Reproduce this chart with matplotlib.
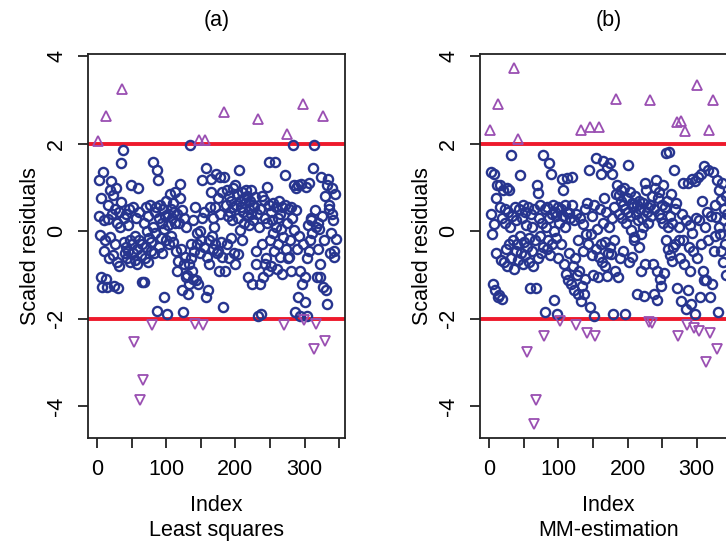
import numpy as np
import matplotlib
matplotlib.use("Agg")
import matplotlib.pyplot as plt

resid_ls = [
    2.06, 1.17, 0.34, -0.09, -1.05, 0.75, -1.27, 1.36, 0.25, -0.44,
    -0.20, 2.64, -1.10, -1.27, 0.60, 0.28, -0.60, 0.95, -0.12, 1.14,
    0.40, -0.55, 0.83, -1.26, 0.50, -0.30, 1.00, -0.70, 0.20, -1.30,
    -0.79, 0.45, 0.10, 0.67, 1.55, 3.24, 1.86, -0.25, 0.30, -0.50,
    0.40, -0.35, -0.60, 0.15, -0.45, 0.50, -0.20, -0.70, 1.06, -0.30,
    0.55, -0.50, -2.52, -0.10, -0.65, 0.30, -0.40, -0.75, 1.00, -0.20,
    0.45, -3.86, -0.55, -1.16, -0.30, -3.39, 0.20, -1.16, -0.60, 0.55,
    -0.35, 0.00, -0.70, 0.35, -0.15, 0.60, -0.45, -0.25, -2.13, 1.59,
    0.10, -0.50, 0.45, -0.05, 0.55, 1.40, -1.81, 1.17, -0.35, 0.30,
    0.60, -0.15, 0.20, -0.50, 0.50, 0.05, -1.50, 0.35, -0.20, 0.70,
    -1.88, 0.40, 0.15, -0.30, 0.85, 0.50, -0.10, 0.30, 0.65, -0.25,
    0.45, 0.90, 0.20, -0.44, 0.40, -0.90, -0.67, 0.18, 1.09, 0.75,
    -0.40, -1.35, 0.48, -1.85, -0.74, 0.30, -0.59, -1.05, 0.10, -1.00,
    -1.43, -1.20, -0.75, 1.97, -0.30, -0.60, -0.90, 0.25, -1.10, -0.45,
    0.56, -2.11, -1.12, -0.05, -0.30, -1.20, 2.09, -0.50, 0.00, -0.20,
    1.17, 0.30, -2.13, 0.45, -0.35, 2.09, -1.50, 1.44, -0.59, -1.35,
    -0.74, -0.21, 0.55, 0.90, 1.20, -0.10, -0.40, 0.30, 0.10, 0.56,
    -0.30, 1.30, -0.50, 0.75, -0.44, -0.90, 1.25, 0.40, -0.25, -0.59,
    0.90, -1.74, 2.72, 1.25, -0.90, 0.60, -0.30, 0.95, 0.35, -0.60,
    0.80, 0.45, -0.15, 0.70, 0.25, 1.00, 0.55, -0.50, -0.74, 1.06,
    0.60, 0.85, 0.30, -0.51, 1.40, 0.70, 0.02, 0.56, -0.21, 0.90,
    0.45, 0.75, 0.20, 0.65, 0.95, 0.35, 0.80, -1.05, 0.50, 0.15,
    0.70, 0.40, 0.94, -1.20, 0.60, 0.25, 0.55, 0.79, -0.74, -0.44,
    0.40, 2.56, -1.93, 0.10, -1.20, 0.50, -1.90, -0.30, 0.80, -1.05,
    0.72, -0.74, 0.30, -0.60, 1.02, 0.18, -0.90, 0.60, 1.59, -0.20,
    0.45, -0.80, 0.25, -0.05, 0.65, -0.45, 1.59, 0.10, 0.55, -0.85,
    0.30, -0.30, 0.70, -0.59, 0.40, 0.05, -0.97, 0.55, -0.13, -2.13,
    1.28, 0.60, -0.40, 0.20, 2.22, -0.60, 0.50, -0.59, -0.20, 0.55,
    -0.90, 0.30, 1.97, 0.02, 1.06, -1.85, 0.49, 1.00, -0.40, -1.50,
    1.05, -0.10, -0.90, -1.93, 1.08, -1.20, -0.29, 2.91, -2.02, -1.05,
    -1.62, 1.02, -1.93, -0.60, 0.15, 1.10, -0.44, -0.20, 0.30, 0.25,
    -0.05, 1.44, -2.69, 1.97, 0.49, -2.12, 0.10, -1.05, 0.20, -0.40,
    0.05, -0.74, -1.05, 1.25, 0.35, 2.64, -1.28, -0.20, -2.50, 0.80,
    -1.35, 1.06, -1.66, 1.20, 0.50, 0.60, -0.50, -0.05, 0.40, 1.00,
    0.25, -0.44, -0.59, 0.86, -0.17,
]

resid_mm = [
    2.32, 1.36, 0.40, -0.06, -1.20, 1.30, 0.17, -1.35, 0.75, -0.50,
    1.06, 2.91, -1.50, -1.45, 0.55, 1.06, -0.65, 0.30, -1.55, 0.95,
    -0.70, 0.50, 0.20, -0.40, 1.00, -0.80, 0.45, 0.94, -0.30, 0.10,
    -0.60, 1.74, 0.35, -0.20, -0.85, 3.74, 0.55, -0.45, 0.25, -0.30,
    2.11, -0.65, 0.50, 1.28, -0.10, -0.50, 0.30, -0.75, 0.60, -0.25,
    0.45, -0.55, 0.15, -2.76, -0.35, 0.55, -0.70, -0.15, -1.30, 0.40,
    -0.45, 0.10, -0.80, -4.39, 0.50, -0.20, -3.86, -1.30, 1.06, 0.87,
    -0.60, 0.30, -0.10, 0.60, -0.50, 0.20, -0.35, 1.74, -2.40, 0.50,
    -1.85, 0.10, -0.40, 0.55, -0.20, 0.30, 1.55, -0.55, 1.32, 0.40,
    -0.30, 0.60, -1.58, 0.00, 0.45, -0.15, 0.35, -1.90, 0.55, -0.60,
    0.20, -2.05, 0.50, -0.30, 1.20, 0.35, 0.95, -0.74, 0.60, 0.10,
    -0.97, 0.45, 1.21, -1.12, 0.41, -0.50, 0.30, -1.20, 0.60, 1.25,
    -0.80, 0.25, -1.35, -0.60, -2.13, 0.40, -1.00, -0.20, -1.43, -0.90,
    0.30, -1.60, 2.32, -1.25, -0.45, 0.17, -1.43, 0.50, -1.10, -0.06,
    -2.32, 0.64, -0.30, 1.40, 2.38, -1.74, -0.06, -0.55, 0.35, -1.00,
    -1.93, 0.60, -2.40, 1.67, -0.40, 0.06, -1.05, 2.38, -0.59, 0.50,
    -0.30, 1.30, -0.70, 0.20, 1.60, 0.75, -0.25, -0.80, 0.45, -1.01,
    1.47, -0.50, 0.10, 1.55, -0.35, -0.51, 0.30, 1.32, -1.89, -0.21,
    0.55, -0.90, 3.03, 0.85, 1.06, -1.05, 0.40, 0.83, -0.60, 0.70,
    0.95, 0.30, -0.45, 0.60, 1.00, -1.90, 0.50, 0.20, 0.75, 1.51,
    0.45, -0.70, 0.90, 0.35, 0.02, -0.59, 0.65, 0.55, -0.20, -0.13,
    0.80, 0.40, 0.60, -1.43, 0.25, 0.70, -0.36, 0.50, -0.06, -0.90,
    0.30, 0.65, 0.10, -1.47, 1.10, -0.74, 0.94, 0.45, 0.55, 0.20,
    -2.07, 0.60, 2.99, 0.35, 0.80, -2.09, -0.74, -1.43, 0.50, 1.00,
    1.17, -0.90, -1.58, 0.75, 0.40, 0.90, -1.10, 0.30, -1.25, 0.60,
    1.05, 0.20, -0.95, 0.55, 1.78, -0.20, 0.70, -0.40, 0.10, 1.82,
    -0.55, 0.35, 0.85, -0.67, 0.20, -0.36, 1.40, 0.50, -0.30, 0.65,
    -1.30, 2.50, -2.40, 0.10, -0.20, -0.60, 2.52, -1.60, 0.40, 1.10,
    -0.21, -0.74, 2.30, -1.77, 0.25, -2.13, 1.10, -1.35, -0.36, 0.15,
    -0.90, -1.66, -0.05, 1.20, -0.45, -2.20, 1.15, -1.90, 0.30, 3.35,
    -0.60, 1.25, -2.28, 0.25, -1.50, 1.30, -0.30, 0.70, -0.90, -1.12,
    1.50, 0.10, -2.98, -1.12, 0.45, -0.20, 1.40, 2.32, -1.50, -2.32,
    0.35, -1.20, 3.00, 1.35, -0.44, -0.10, 0.60, 0.33, -2.69, 1.17,
    -1.85, 0.94, 0.10, -0.06, 0.72, -0.44, 1.10, -0.70, 0.50, 0.25,
    -0.30, 0.80, -1.00, 0.40, 0.10,
]

panel_titles = ["(a)", "(b)"]
method_names = ["Least squares", "MM-estimation"]
cutoff = 2.0

BLUE = "#27358f"
PURPLE = "#9a4fb2"
RED = "#ee1a2c"


def draw_panel(ax, resid, title, method):
    r = np.array(resid)
    idx = np.arange(1, len(r) + 1)
    inner = np.abs(r) <= cutoff
    hi = r > cutoff
    lo = r < -cutoff

    ax.axhline(cutoff, color=RED, lw=2.8, zorder=1)
    ax.axhline(-cutoff, color=RED, lw=2.8, zorder=1)
    ax.plot(idx[inner], r[inner], "o", mfc="none", mec=BLUE, ms=6.6, mew=1.7, zorder=2)
    ax.plot(idx[hi], r[hi], "^", mfc="none", mec=PURPLE, ms=7.5, mew=1.3, zorder=2)
    ax.plot(idx[lo], r[lo], "v", mfc="none", mec=PURPLE, ms=7.5, mew=1.3, zorder=2)

    ax.set_xlim(-13.5, 358.5)
    ax.set_ylim(-4.72, 4.05)
    ax.set_xticks(np.arange(0, 351, 50))
    ax.set_xticklabels([str(t) if t % 100 == 0 else "" for t in range(0, 351, 50)])
    ax.set_yticks([-4, -2, 0, 2, 4])
    ax.set_yticklabels(["-4", "-2", "0", "2", "4"], rotation=90, va="center")
    ax.tick_params(direction="out", length=7, width=1.3, pad=8, labelsize=15.5, color="#222222")
    for s in ax.spines.values():
        s.set_linewidth(1.3)
        s.set_color("#222222")
    ax.set_title(title, fontsize=15.5, pad=20)
    ax.set_xlabel("Index\n" + method, fontsize=15.5, labelpad=11, linespacing=1.25)
    ax.set_ylabel("Scaled residuals", fontsize=15.5, labelpad=4)


def main():
    plt.rcParams["font.family"] = ["Liberation Sans", "DejaVu Sans"]
    plt.rcParams["axes.unicode_minus"] = False

    fig = plt.figure(figsize=(7.26, 5.44), dpi=100)
    ax_a = fig.add_axes([0.1212, 0.1949, 0.354, 0.7059])
    ax_b = fig.add_axes([0.6612, 0.1949, 0.354, 0.7059])

    draw_panel(ax_a, resid_ls, panel_titles[0], method_names[0])
    draw_panel(ax_b, resid_mm, panel_titles[1], method_names[1])

    fig.savefig("out.png", dpi=100)


if __name__ == "__main__":
    main()
